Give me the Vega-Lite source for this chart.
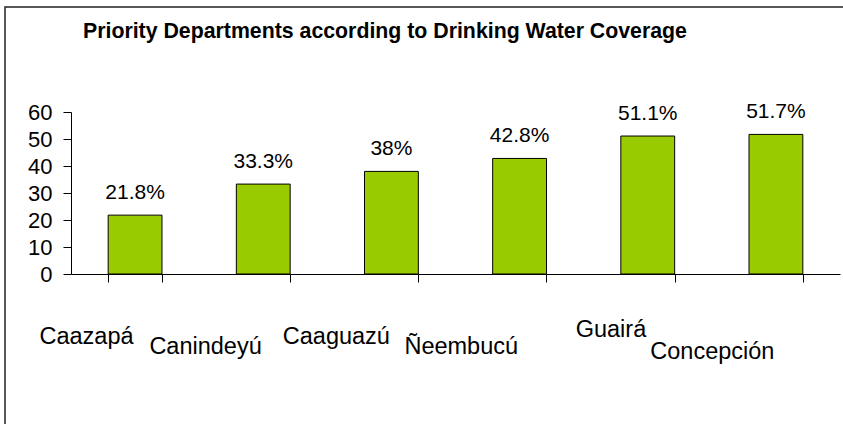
{
  "$schema": "https://vega.github.io/schema/vega-lite/v6.json",
  "autosize": "none",
  "width": 839,
  "height": 418,
  "padding": {"left": 5, "top": 7, "right": -1, "bottom": -1},
  "background": "white",
  "config": {
    "view": {"stroke": "#222222", "strokeWidth": 1.5},
    "font": "Liberation Sans"
  },
  "title": {
    "text": "Priority Departments according to Drinking Water Coverage",
    "orient": "top",
    "anchor": "start",
    "frame": "group",
    "dx": 78,
    "offset": -52,
    "baseline": "alphabetic",
    "font": "Liberation Sans",
    "fontSize": 21.3,
    "fontWeight": "bold",
    "color": "#000000"
  },
  "data": {
    "values": [
      {"department": "Caazapá", "coverage": 21.8, "label": "21.8%"},
      {"department": "Canindeyú", "coverage": 33.3, "label": "33.3%"},
      {"department": "Caaguazú", "coverage": 38, "label": "38%"},
      {"department": "Ñeembucú", "coverage": 42.8, "label": "42.8%"},
      {"department": "Guairá", "coverage": 51.1, "label": "51.1%"},
      {"department": "Concepción", "coverage": 51.7, "label": "51.7%"}
    ]
  },
  "encoding": {
    "x": {
      "field": "department",
      "type": "nominal",
      "sort": null,
      "scale": {"range": [66, 835], "paddingInner": 0.58, "paddingOuter": 0.29},
      "axis": {
        "title": null,
        "orient": "bottom",
        "offset": -151,
        "labelAngle": 0,
        "labelAlign": "right",
        "labelBaseline": "alphabetic",
        "labelFontSize": 23.5,
        "labelFont": "Liberation Sans",
        "labelColor": "#000000",
        "labelOverlap": false,
        "labelOffset": -2,
        "labelPadding": {
          "condition": [
            {"test": "datum.value === 'Caazapá'", "value": 61},
            {"test": "datum.value === 'Canindeyú'", "value": 71},
            {"test": "datum.value === 'Caaguazú'", "value": 61},
            {"test": "datum.value === 'Ñeembucú'", "value": 71},
            {"test": "datum.value === 'Guairá'", "value": 54}
          ],
          "value": 76
        },
        "tickBand": "extent",
        "tickSize": 8,
        "tickColor": "#000000",
        "domainColor": "#000000",
        "grid": false
      }
    },
    "y": {
      "field": "coverage",
      "type": "quantitative",
      "scale": {"domain": [0, 60], "range": [267, 105], "nice": false},
      "axis": {
        "title": null,
        "orient": "left",
        "offset": -66,
        "values": [0, 10, 20, 30, 40, 50, 60],
        "labelFontSize": 22,
        "labelFont": "Liberation Sans",
        "labelColor": "#000000",
        "labelPadding": 11,
        "tickSize": 8,
        "tickColor": "#000000",
        "domainColor": "#000000",
        "grid": false
      }
    }
  },
  "layer": [
    {
      "mark": {"type": "bar", "fill": "#99CC00", "stroke": "#000000", "strokeWidth": 1}
    },
    {
      "mark": {"type": "text", "baseline": "alphabetic", "align": "center", "dy": -16, "fontSize": 21, "font": "Liberation Sans", "color": "#000000"},
      "encoding": {"text": {"field": "label"}}
    }
  ]
}
